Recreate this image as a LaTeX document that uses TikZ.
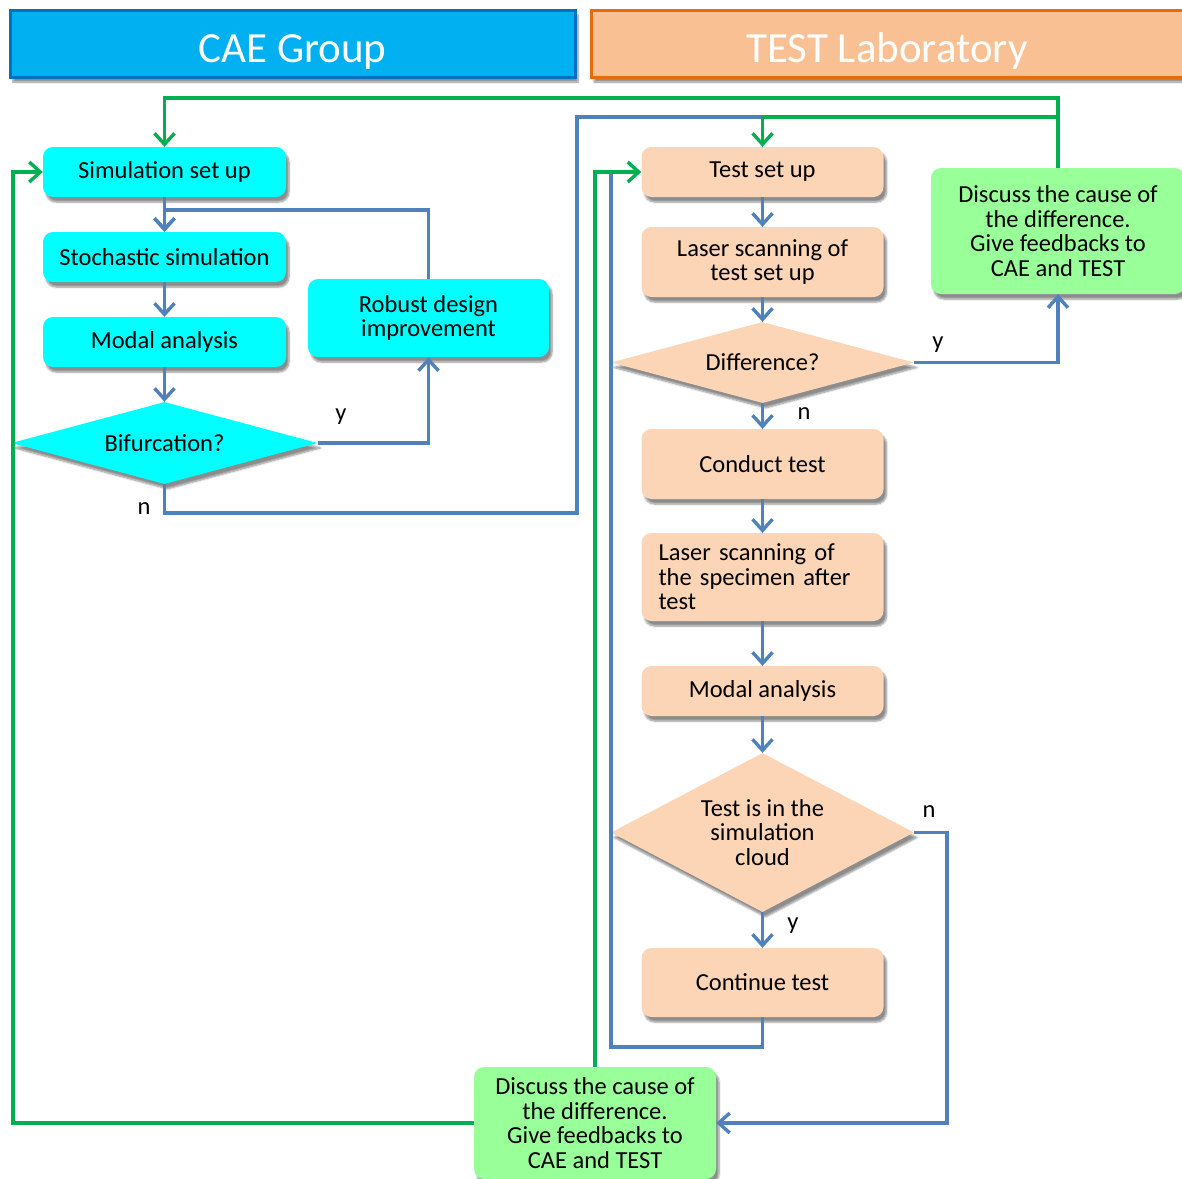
\documentclass[tikz,border=0pt]{standalone}
\usepackage{fontspec}
\setmainfont{Carlito}
\usetikzlibrary{arrows.meta,shapes.geometric,shadows.blur}
\definecolor{cyanbox}{HTML}{00FFFF}
\definecolor{peach}{HTML}{FBD5B5}
\definecolor{lgreen}{HTML}{99FF99}
\definecolor{hdrblue}{HTML}{00B0F0}
\definecolor{hdrblueb}{HTML}{0070C0}
\definecolor{hdrorange}{HTML}{F9C193}
\definecolor{hdrorangeb}{HTML}{E46C0A}
\definecolor{lineblue}{HTML}{4F81BD}
\definecolor{linegreen}{HTML}{00B050}
\tikzset{
  shad/.style={blur shadow={shadow xshift=3pt, shadow yshift=-5pt, shadow blur steps=6, shadow opacity=45}},
  box/.style={rectangle, rounded corners=10pt, draw=none, shad, align=center, inner sep=0pt,
    font=\fontsize{24.5}{24.5}\selectfont},
  cae/.style={box, fill=cyanbox},
  lab/.style={box, fill=peach},
  disc/.style={box, fill=lgreen},
  dia/.style={diamond, draw=none, inner sep=0pt, shad, align=center, font=\fontsize{24.5}{24.5}\selectfont},
  hdr/.style={rectangle, line width=3pt, shad, font=\fontsize{43}{45}\selectfont, text=white, inner sep=0pt,
    text height=40pt, text depth=3pt},
  bl/.style={draw=lineblue, line width=3.4pt},
  gr/.style={draw=linegreen, line width=3.4pt},
  arr/.style={-{Straight Barb[length=11pt,width=20pt]}},
  lbl/.style={font=\fontsize{24.5}{24.5}\selectfont, inner sep=0pt}
}
\begin{document}
\begin{tikzpicture}[x=1pt,y=-1pt]
\useasboundingbox (0,0) rectangle (1182,1178);
\clip (0,0) rectangle (1182,1178);
% headers
\node[hdr, fill=hdrblue, draw=hdrblueb, minimum width=565, minimum height=67] (hcae) at (292.5,43.5) {CAE Group};
\node[hdr, fill=hdrorange, draw=hdrorangeb, minimum width=600, minimum height=67] (htest) at (891,43.5) {\hspace*{-8pt}TEST Laboratory};
% CAE nodes
\node[cae, minimum width=243, minimum height=50] (sim) at (164.5,172) {Simulation set up};
\node[cae, minimum width=243, minimum height=50] (stoch) at (164.5,257) {Stochastic simulation};
\node[cae, minimum width=243, minimum height=50] (modL) at (164.5,342) {Modal analysis};
\node[dia, fill=cyanbox, minimum width=306, minimum height=82, shape aspect=3.7] (bif) at (164.5,443) {Bifurcation?};
\node[cae, minimum width=241, minimum height=78] (rob) at (428.5,318) {Robust design\\improvement};
% TEST nodes
\node[lab, minimum width=242, minimum height=50] (tsu) at (762.5,172) {Test set up};
\node[lab, minimum width=242, minimum height=70] (ls1) at (762.5,262) {Laser scanning of\\test set up};
\node[dia, fill=peach, minimum width=303, minimum height=81, shape aspect=3.7] (diff) at (762.5,362.5) {Difference?};
\node[lab, minimum width=242, minimum height=70] (cond) at (762.5,464) {Conduct test};
\node[lab, minimum height=88, inner xsep=17pt, text width=208pt, align=left] (ls2) at (762.5,577) {Laser scanning of\\the specimen after\\test};
\node[lab, minimum width=242, minimum height=50] (modR) at (762.5,691) {Modal analysis};
\node[dia, fill=peach, minimum width=303, minimum height=159, shape aspect=1.9] (cloud) at (762.5,832.5) {Test is in the\\simulation\\cloud};
\node[lab, minimum width=242, minimum height=69] (cont) at (762.5,982.5) {Continue test};
% discussion nodes
\node[disc, minimum width=254, minimum height=126] (dtr) at (1058,231) {Discuss the cause of\\the difference.\\Give feedbacks to\\CAE and TEST};
\node[disc, minimum width=242, minimum height=112] (dbot) at (595,1123) {Discuss the cause of\\the difference.\\Give feedbacks to\\CAE and TEST};
% coordinates
\coordinate (j1) at (164.5,210);
\coordinate (nb) at (577,513);
\coordinate (nt) at (577,117);
\coordinate (j2) at (762.5,117);
\coordinate (g1) at (1058,98);
\coordinate (g3) at (1058,117);
\coordinate (gl) at (13,1123);
\coordinate (cb) at (611,1047);
\coordinate (ct) at (611,173);
\coordinate (cr) at (947,832.5);
% CAE connectors
\draw[bl,arr] (sim.south) -- (stoch.north);
\draw[bl,arr] (stoch.south) -- (modL.north);
\draw[bl,arr] (modL.south) -- (bif.north);
\draw[bl,arr] (bif.east) -| (rob.south);
\draw[bl,arr] (rob.north) |- (j1) -- (stoch.north);
\draw[bl] (bif.south) |- (nb) -- (nt) -- (j2);
% TEST connectors
\draw[bl,arr] (tsu.south) -- (ls1.north);
\draw[bl,arr] (ls1.south) -- (diff.north);
\draw[bl,arr] (diff.south) -- (cond.north);
\draw[bl,arr] (cond.south) -- (ls2.north);
\draw[bl,arr] (ls2.south) -- (modR.north);
\draw[bl,arr] (modR.south) -- (cloud.north);
\draw[bl,arr] (cloud.south) -- (cont.north);
\draw[bl,arr] (diff.east) -| (dtr.south);
\draw[bl,arr] (cloud.east) -- (cr) |- (dbot.east);
\draw[bl] (cont.south) |- (cb) -- (ct);
% green feedback
\draw[gr,arr] (dtr.north) -- (g1) -| (sim.north);
\draw[gr,arr] (g3) -| (tsu.north);
\draw[gr,arr] (dbot.west) -- (gl) |- (sim.west);
\draw[gr,arr] (dbot.north) |- (tsu.west);
% labels
\node[lbl] (ly1) at (341,417) {y};
\node[lbl] (ln1) at (144,509) {n};
\node[lbl] (ly2) at (938,345) {y};
\node[lbl] (ln2) at (804,414) {n};
\node[lbl] (ln3) at (929,812) {n};
\node[lbl] (ly3) at (793,926) {y};
\end{tikzpicture}
\end{document}
